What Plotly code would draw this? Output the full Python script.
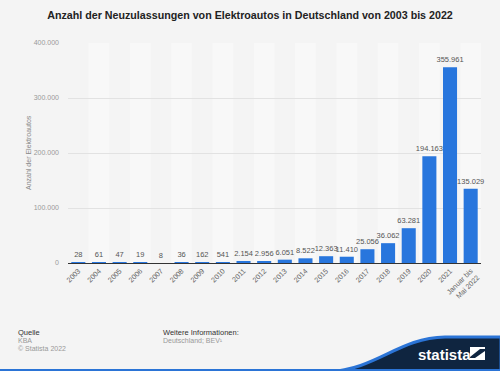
import plotly.graph_objects as go

categories = ["2003", "2004", "2005", "2006", "2007", "2008", "2009", "2010", "2011", "2012",
              "2013", "2014", "2015", "2016", "2017", "2018", "2019", "2020", "2021",
              "Januar bis<br>Mai 2022"]
values = [28, 61, 47, 19, 8, 36, 162, 541, 2154, 2956,
          6051, 8522, 12363, 11410, 25056, 36062, 63281, 194163, 355961, 135029]
y_ticks = [0, 100000, 200000, 300000, 400000]
y_tick_labels = ["0", "100.000", "200.000", "300.000", "400.000"]

W, H = 500, 371
L, R, T, B = 68, 19, 43, 108
PW, PH = W - L - R, H - T - B

def px(x):  # window pixel -> paper x
    return (x - L) / PW

def py(y):  # window pixel -> paper y
    return (H - B - y) / PH

FONT = "Arial, Liberation Sans, sans-serif"
BG = "#f4f4f4"

fig = go.Figure()
fig.add_trace(go.Bar(
    x=list(range(len(categories))), y=values,
    marker=dict(color="#2876dd", line=dict(width=0)),
    text=[f"{v:,}".replace(",", ".") for v in values],
    textposition="outside", cliponaxis=False,
    textfont=dict(family=FONT, size=7.5, color="#555555"),
    hoverinfo="skip",
))

shapes = []
for i in range(len(categories)):
    if i % 2 == 1:
        shapes.append(dict(type="rect", xref="x", yref="paper", x0=i - 0.5, x1=i + 0.5,
                           y0=0, y1=1, fillcolor="#f8f8f8", line=dict(width=0), layer="below"))

wave = (f"M {px(328)},{py(372)} C {px(378)},{py(369)} {px(398)},{py(338)} {px(445)},{py(337)} "
        f"L {px(501)},{py(337)} L {px(501)},{py(372)} Z")
shapes.append(dict(type="path", xref="paper", yref="paper", path=wave,
                   fillcolor="#0f2540", line=dict(color="#2b74d6", width=3), layer="above"))
shapes.append(dict(type="rect", xref="paper", yref="paper", x0=px(0), x1=px(501),
                   y0=py(372), y1=py(369), fillcolor="#2b74d6", line=dict(width=0)))
shapes.append(dict(type="rect", xref="paper", yref="paper", x0=px(470), x1=px(485),
                   y0=py(360), y1=py(347), fillcolor="white", line=dict(width=0)))
icon = (f"M {px(470)},{py(357)} L {px(480)},{py(349)} L {px(485)},{py(349)} L {px(485)},{py(351)} "
        f"L {px(475)},{py(358)} L {px(470)},{py(358)} Z")
shapes.append(dict(type="path", xref="paper", yref="paper", path=icon,
                   fillcolor="#0f2540", line=dict(width=0)))

annotations = [
    dict(text="Quelle", x=px(16), y=py(332), xanchor="left", yanchor="middle",
         font=dict(family=FONT, size=7.5, color="#333333")),
    dict(text="KBA", x=px(16), y=py(340.5), xanchor="left", yanchor="middle",
         font=dict(family=FONT, size=7, color="#999999")),
    dict(text="© Statista 2022", x=px(16), y=py(348.5), xanchor="left", yanchor="middle",
         font=dict(family=FONT, size=7, color="#999999")),
    dict(text="Weitere Informationen:", x=px(161), y=py(332), xanchor="left", yanchor="middle",
         font=dict(family=FONT, size=7.5, color="#333333")),
    dict(text="Deutschland; BEV¹", x=px(161), y=py(340.5), xanchor="left", yanchor="middle",
         font=dict(family=FONT, size=7, color="#999999")),
    dict(text="<b>statista</b>", x=px(444), y=py(354), xanchor="center", yanchor="middle",
         font=dict(family=FONT, size=15, color="white")),
    dict(text="Anzahl der Elektroautos", x=px(28), y=0.5, textangle=-90,
         xanchor="center", yanchor="middle",
         font=dict(family=FONT, size=7, color="#888888")),
]
for a in annotations:
    a.update(xref="paper", yref="paper", showarrow=False)

fig.update_layout(
    width=W, height=H,
    margin=dict(l=L, r=R, t=T, b=B, autoexpand=False),
    paper_bgcolor=BG, plot_bgcolor=BG,
    separators=",.",
    uniformtext=dict(minsize=7.5, mode="show"),
    title=dict(text="<b>Anzahl der Neuzulassungen von Elektroautos in Deutschland von 2003 bis 2022</b>",
               x=0.5, xanchor="center", y=1 - 15 / H, yanchor="middle",
               font=dict(family=FONT, size=10.7, color="#222222")),
    bargap=0.32,
    showlegend=False,
    shapes=shapes,
    annotations=annotations,
    xaxis=dict(
        tickmode="array", tickvals=list(range(len(categories))), ticktext=categories,
        tickangle=-45, range=[-0.5, len(categories) - 0.5],
        tickfont=dict(family=FONT, size=7.2, color="#666666"),
        showgrid=False, showline=True, linecolor="#333333", linewidth=1,
        ticks="", zeroline=False, fixedrange=True,
    ),
    yaxis=dict(
        range=[0, 400000], tickmode="array", tickvals=y_ticks, ticktext=y_tick_labels,
        tickfont=dict(family=FONT, size=7, color="#999999"),
        showgrid=True, gridcolor="#e2e2e2", gridwidth=1,
        zeroline=False, showline=False, ticks="", ticklabelstandoff=8, fixedrange=True,
    ),
)

fig.write_html(
    "out.html",
    config={"displayModeBar": False},
    post_script="document.documentElement.style.margin='0';document.body.style.margin='0';"
                "document.body.style.overflow='hidden';document.body.style.background='#f4f4f4';",
)
